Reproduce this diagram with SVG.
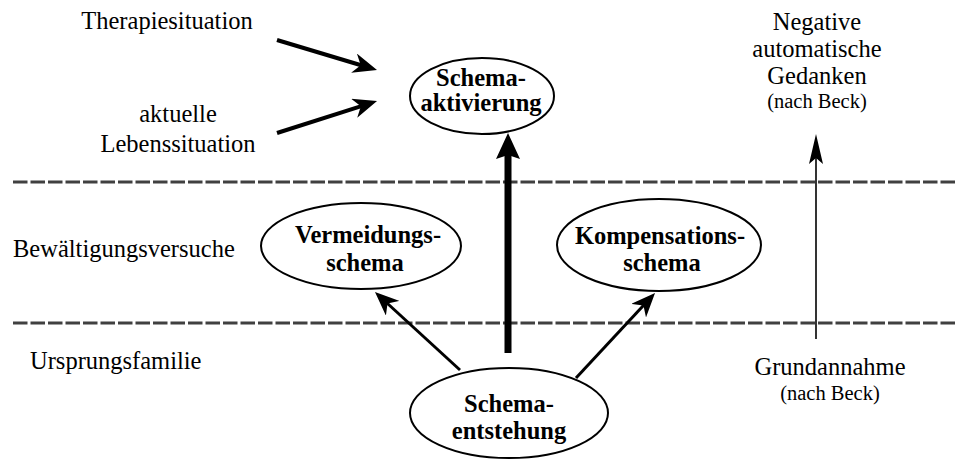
<svg xmlns="http://www.w3.org/2000/svg" width="957" height="459" viewBox="0 0 957 459">
  <style>
    .lbl { font-family: "Liberation Serif", "Times New Roman", serif; font-size: 24.5px; fill: #000; text-anchor: middle; }
    .lbl.left { text-anchor: start; }
    .note { font-family: "Liberation Serif", "Times New Roman", serif; font-size: 20.5px; fill: #000; text-anchor: middle; }
    .node text { font-family: "Liberation Serif", "Times New Roman", serif; font-size: 24.5px; font-weight: bold; fill: #000; text-anchor: middle; }
    .node ellipse { fill: #fff; stroke: #000; stroke-width: 2; }
    .divider { stroke: #404040; stroke-width: 3; stroke-dasharray: 14.5 3; fill: none; }
    .arrow { stroke: #000; fill: none; }
  </style>
  <defs>
    <marker id="headMid" markerUnits="userSpaceOnUse" viewBox="0 0 24 20" refX="10" refY="10" markerWidth="24" markerHeight="20" orient="auto">
      <path d="M0,0 L24,10 L0,20 L7,10 Z" fill="#000"/>
    </marker>
    <marker id="headBold" markerUnits="userSpaceOnUse" viewBox="0 0 26 24" refX="12" refY="12" markerWidth="26" markerHeight="24" orient="auto">
      <path d="M0,0 L26,12 L0,24 L4,12 Z" fill="#000"/>
    </marker>
    <marker id="headThin" markerUnits="userSpaceOnUse" viewBox="0 0 30 14" refX="15" refY="7" markerWidth="30" markerHeight="14" orient="auto">
      <path d="M0,0 L30,7 L0,14 L6,7 Z" fill="#000"/>
    </marker>
  </defs>

  <!-- layer boundaries -->
  <g id="dividers">
    <line class="divider" x1="13" y1="182" x2="957" y2="182"/>
    <line class="divider" x1="13" y1="323" x2="957" y2="323"/>
  </g>

  <!-- plain labels -->
  <g id="labels">
    <text class="lbl" x="167" y="29">Therapiesituation</text>
    <text class="lbl" x="178" y="122">aktuelle</text>
    <text class="lbl" x="178" y="152">Lebenssituation</text>
    <text class="lbl left" x="13" y="257">Bewältigungsversuche</text>
    <text class="lbl left" x="30" y="369">Ursprungsfamilie</text>
    <text class="lbl" x="817" y="30">Negative</text>
    <text class="lbl" x="817" y="57">automatische</text>
    <text class="lbl" x="817" y="84">Gedanken</text>
    <text class="note" x="817" y="108">(nach Beck)</text>
    <text class="lbl" x="830" y="375">Grundannahme</text>
    <text class="note" x="830" y="400">(nach Beck)</text>
  </g>

  <!-- connectors -->
  <g id="connectors">
    <line class="arrow" x1="277" y1="40" x2="363.6" y2="66" stroke-width="4" marker-end="url(#headMid)"/>
    <line class="arrow" x1="277" y1="133" x2="363.7" y2="105.3" stroke-width="4" marker-end="url(#headMid)"/>
    <line class="arrow" x1="508" y1="353" x2="508" y2="147" stroke-width="7" marker-end="url(#headBold)"/>
    <line class="arrow" x1="460" y1="370" x2="385.3" y2="301.5" stroke-width="3" marker-end="url(#headMid)"/>
    <line class="arrow" x1="576" y1="378" x2="645.5" y2="303.3" stroke-width="3" marker-end="url(#headMid)"/>
    <line class="arrow" x1="816" y1="339" x2="816" y2="149" stroke-width="1.6" marker-end="url(#headThin)"/>
  </g>

  <!-- schema nodes -->
  <g id="aktivierung" class="node">
    <ellipse cx="482" cy="96" rx="72" ry="38"/>
    <text x="481" y="86">Schema-</text>
    <text x="481" y="111">aktivierung</text>
  </g>
  <g id="vermeidung" class="node">
    <ellipse cx="361" cy="246" rx="100" ry="43"/>
    <text x="368" y="243">Vermeidungs-</text>
    <text x="365" y="271">schema</text>
  </g>
  <g id="kompensation" class="node">
    <ellipse cx="659" cy="245" rx="102" ry="46"/>
    <text x="660" y="244">Kompensations-</text>
    <text x="662" y="271">schema</text>
  </g>
  <g id="entstehung" class="node">
    <ellipse cx="509" cy="413" rx="99" ry="45"/>
    <text x="509" y="412">Schema-</text>
    <text x="509" y="439">entstehung</text>
  </g>
</svg>
